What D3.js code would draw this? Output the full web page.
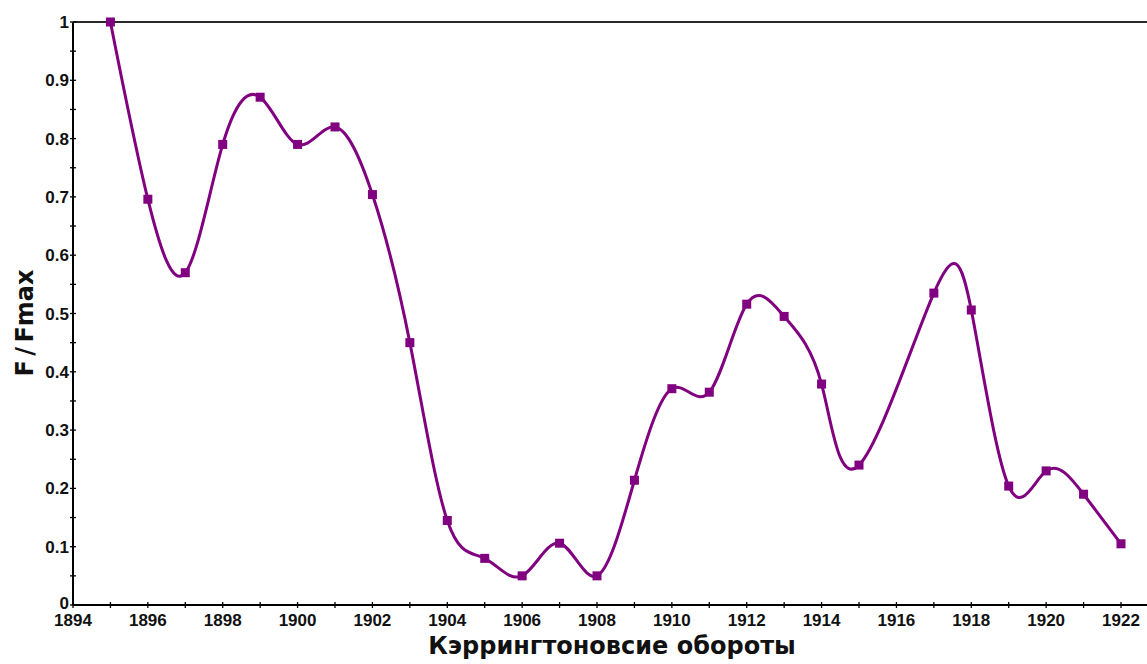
<!DOCTYPE html>
<html>
<head>
<meta charset="utf-8">
<script src="https://cdn.jsdelivr.net/npm/d3@7"></script>
<style>
  html, body { margin: 0; padding: 0; background: #fff; }
  svg { display: block; }
</style>
</head>
<body>
<svg id="chart" width="1147" height="664"></svg>
<script>
// Carrington rotation numbers and normalised flux F/Fmax
const rotations = [1895, 1896, 1897, 1898, 1899, 1900, 1901, 1902, 1903, 1904,
                   1905, 1906, 1907, 1908, 1909, 1910, 1911, 1912, 1913, 1914,
                   1915, 1917, 1918, 1919, 1920, 1921, 1922];
const fluxRatio = [1.0, 0.696, 0.570, 0.790, 0.871, 0.790, 0.820, 0.704, 0.450, 0.145,
                   0.080, 0.050, 0.106, 0.050, 0.214, 0.371, 0.365, 0.516, 0.495, 0.379,
                   0.240, 0.535, 0.506, 0.204, 0.230, 0.190, 0.105];
const xTickLabels = [1894, 1896, 1898, 1900, 1902, 1904, 1906, 1908, 1910,
                     1912, 1914, 1916, 1918, 1920, 1922];
const yTickLabels = [0, 0.1, 0.2, 0.3, 0.4, 0.5, 0.6, 0.7, 0.8, 0.9, 1];

const xTitle = "Кэррингтоновсие обороты";
const yTitle = "F / Fmax";

const svg = d3.select("#chart");
const plotLeft = 73, plotRight = 1121, plotTop = 22, plotBottom = 605;
const lineColor = "#800080";

const x = d3.scaleLinear().domain([1894, 1922]).range([plotLeft, plotRight]);
const y = d3.scaleLinear().domain([0, 1]).range([plotBottom, plotTop]);

const tickFont = "'Liberation Sans', Arial, sans-serif";

// top frame line
svg.append("line")
  .attr("x1", plotLeft).attr("x2", 1147)
  .attr("y1", plotTop).attr("y2", plotTop)
  .attr("stroke", "#2a2a2a").attr("stroke-width", 2);

// x axis
const xAxis = svg.append("g").attr("transform", `translate(0,${plotBottom})`);
xAxis.append("line")
  .attr("x1", plotLeft).attr("x2", 1147)
  .attr("stroke", "#000").attr("stroke-width", 2);
xAxis.selectAll("line.minor")
  .data(d3.range(1894, 1923))
  .join("line").attr("class", "minor")
  .attr("x1", d => x(d)).attr("x2", d => x(d))
  .attr("y1", -3).attr("y2", 3)
  .attr("stroke", "#000").attr("stroke-width", 1.3);
xAxis.selectAll("text")
  .data(xTickLabels)
  .join("text")
  .attr("x", d => x(d)).attr("y", 21)
  .attr("text-anchor", "middle")
  .attr("font-family", tickFont).attr("font-weight", "bold")
  .attr("font-size", 17).attr("fill", "#111")
  .text(d => d);

// y axis
const yAxis = svg.append("g").attr("transform", `translate(${plotLeft},0)`);
yAxis.append("line")
  .attr("y1", plotTop).attr("y2", plotBottom)
  .attr("stroke", "#000").attr("stroke-width", 2);
yAxis.selectAll("line.minor")
  .data(d3.range(0, 21).map(i => i * 0.05))
  .join("line").attr("class", "minor")
  .attr("x1", -3).attr("x2", 3)
  .attr("y1", d => y(d)).attr("y2", d => y(d))
  .attr("stroke", "#000").attr("stroke-width", 1.3);
yAxis.selectAll("text")
  .data(yTickLabels)
  .join("text")
  .attr("x", -4).attr("y", d => y(d) + (d === 0 ? 4 : 6))
  .attr("text-anchor", "end")
  .attr("font-family", tickFont).attr("font-weight", "bold")
  .attr("font-size", 17).attr("fill", "#111")
  .text(d => d);

// axis titles
svg.append("text")
  .attr("x", 612).attr("y", 654)
  .attr("text-anchor", "middle")
  .attr("font-family", "'DejaVu Sans', Verdana, sans-serif")
  .attr("font-weight", "bold").attr("font-size", 24)
  .attr("fill", "#111")
  .text(xTitle);

svg.append("text")
  .attr("transform", "translate(33,323) rotate(-90)")
  .attr("text-anchor", "middle")
  .attr("font-family", "'DejaVu Sans', Verdana, sans-serif")
  .attr("font-weight", "bold").attr("font-size", 24)
  .attr("word-spacing", -4)
  .attr("fill", "#111")
  .text(yTitle);

// smoothed series line
const pts = rotations.map((r, i) => [r, fluxRatio[i]]);
const line = d3.line()
  .x(d => x(d[0])).y(d => y(d[1]))
  .curve(d3.curveNatural);

svg.append("path")
  .datum(pts)
  .attr("d", line)
  .attr("fill", "none")
  .attr("stroke", lineColor)
  .attr("stroke-width", 3);

// square markers
const m = 9;
svg.selectAll("rect.marker")
  .data(pts)
  .join("rect").attr("class", "marker")
  .attr("x", d => x(d[0]) - m / 2)
  .attr("y", d => y(d[1]) - m / 2)
  .attr("width", m).attr("height", m)
  .attr("fill", lineColor);
</script>
</body>
</html>
